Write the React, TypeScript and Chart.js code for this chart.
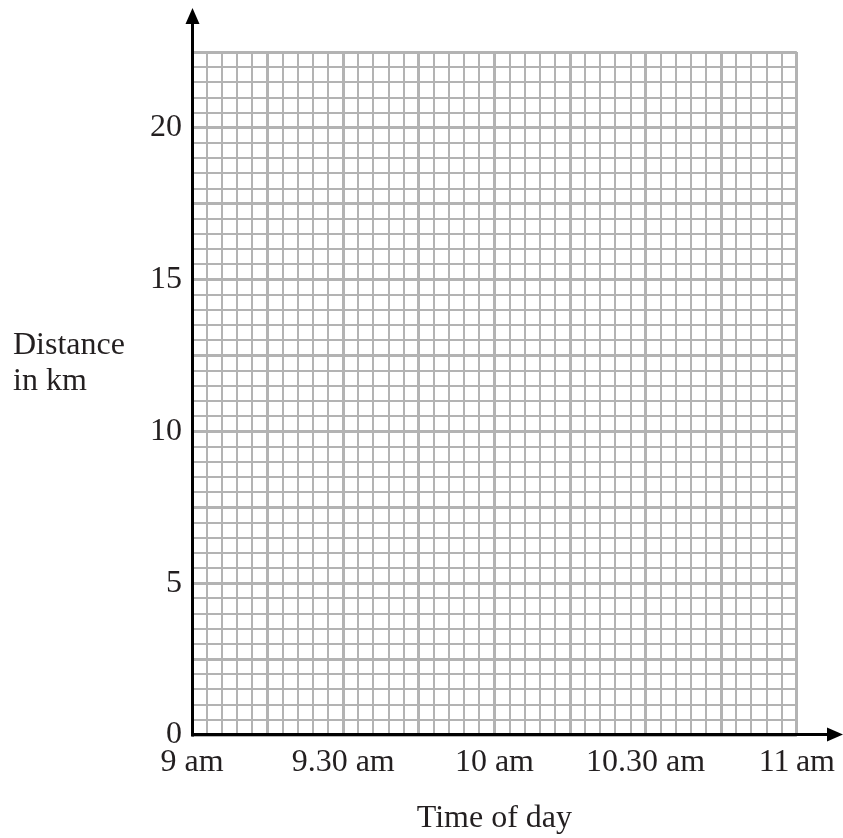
import React, { useEffect, useRef } from "react";
import { Chart, registerables } from "chart.js";

Chart.register(...registerables);

// Axis data (minutes after 9 am, km)
const xMin = 0;
const xMax = 120;
const xMinorStep = 3;
const xMajorStep = 15;
const xLabelStep = 30;
const xTickLabels = ["9 am", "9.30 am", "10 am", "10.30 am", "11\u2009am"];

const yMin = 0;
const yMax = 22.5;
const yMinorStep = 0.5;
const yMajorStep = 2.5;
const yLabelValues = [0, 5, 10, 15, 20];

const xTitle = "Time of day";
const yTitleLines = ["Distance", "in km"];

const FONT = "'Liberation Serif', 'Times New Roman', serif";
const FS = 32;
const TEXT = "#231f20";
const GRID = "#b3b3b3";

const isMult = (v: number, step: number) => Math.abs(v / step - Math.round(v / step)) < 1e-6;

const axesPlugin = {
  id: "axesArrows",
  afterDraw(chart: any) {
    const { ctx, chartArea } = chart;
    const { left, bottom } = chartArea;
    ctx.save();
    ctx.strokeStyle = "#000";
    ctx.fillStyle = "#000";
    ctx.lineWidth = 3;
    // y axis
    const ax = left + 0.5;
    ctx.beginPath();
    ctx.moveTo(ax, bottom + 1.5);
    ctx.lineTo(ax, 22);
    ctx.stroke();
    ctx.beginPath();
    ctx.moveTo(ax, 8);
    ctx.lineTo(ax - 7, 24);
    ctx.lineTo(ax + 7, 24);
    ctx.closePath();
    ctx.fill();
    // x axis
    const ay = bottom - 0.5;
    ctx.beginPath();
    ctx.moveTo(ax - 1.5, ay);
    ctx.lineTo(835, ay);
    ctx.stroke();
    ctx.beginPath();
    ctx.moveTo(843, ay);
    ctx.lineTo(827, ay - 7);
    ctx.lineTo(827, ay + 7);
    ctx.closePath();
    ctx.fill();
    // titles
    ctx.font = `${FS}px ${FONT}`;
    ctx.fillStyle = TEXT;
    ctx.textBaseline = "alphabetic";
    ctx.textAlign = "left";
    ctx.fillText(yTitleLines[0], 13, 354);
    ctx.fillText(yTitleLines[1], 13, 390);
    ctx.textAlign = "center";
    ctx.fillText(xTitle, (chartArea.left + chartArea.right) / 2, 827);
    ctx.restore();
  },
};

export default function App() {
  const ref = useRef<HTMLCanvasElement | null>(null);
  useEffect(() => {
    if (!ref.current) return;
    const chart = new Chart(ref.current, {
      type: "scatter",
      data: { datasets: [{ data: [] }] },
      options: {
        responsive: false,
        animation: false,
        layout: { padding: { left: 0, top: 52, right: 43, bottom: 0 } },
        plugins: { legend: { display: false }, tooltip: { enabled: false } },
        scales: {
          x: {
            type: "linear",
            min: xMin,
            max: xMax,
            border: { display: false },
            grid: {
              color: GRID,
              drawTicks: false,
              lineWidth: (c: any) => (isMult(c.tick.value, xMajorStep) ? 3 : 2),
            },
            ticks: {
              stepSize: xMinorStep,
              autoSkip: false,
              maxRotation: 0,
              padding: 8,
              color: TEXT,
              font: { family: FONT, size: FS },
              callback: (v: any) => {
                const n = Number(v);
                return isMult(n, xLabelStep) ? xTickLabels[Math.round(n / xLabelStep)] : "";
              },
            },
            afterFit: (s: any) => {
              s.height = 103;
            },
          },
          y: {
            type: "linear",
            min: yMin,
            max: yMax,
            border: { display: false },
            grid: {
              color: GRID,
              drawTicks: false,
              lineWidth: (c: any) => (isMult(c.tick.value, yMajorStep) ? 3 : 2),
            },
            ticks: {
              stepSize: yMinorStep,
              autoSkip: false,
              padding: 10,
              color: TEXT,
              font: { family: FONT, size: FS },
              callback: (v: any) => {
                const n = Number(v);
                return yLabelValues.some((y) => Math.abs(y - n) < 1e-6) ? String(n) : "";
              },
            },
            afterFit: (s: any) => {
              s.width = 192;
            },
          },
        },
      },
      plugins: [axesPlugin],
    });
    return () => chart.destroy();
  }, []);
  return (
    <div style={{ position: "absolute", left: 0, top: 0, width: 843, height: 838, background: "#fff" }}>
      <canvas ref={ref} width={843} height={838} />
    </div>
  );
}
